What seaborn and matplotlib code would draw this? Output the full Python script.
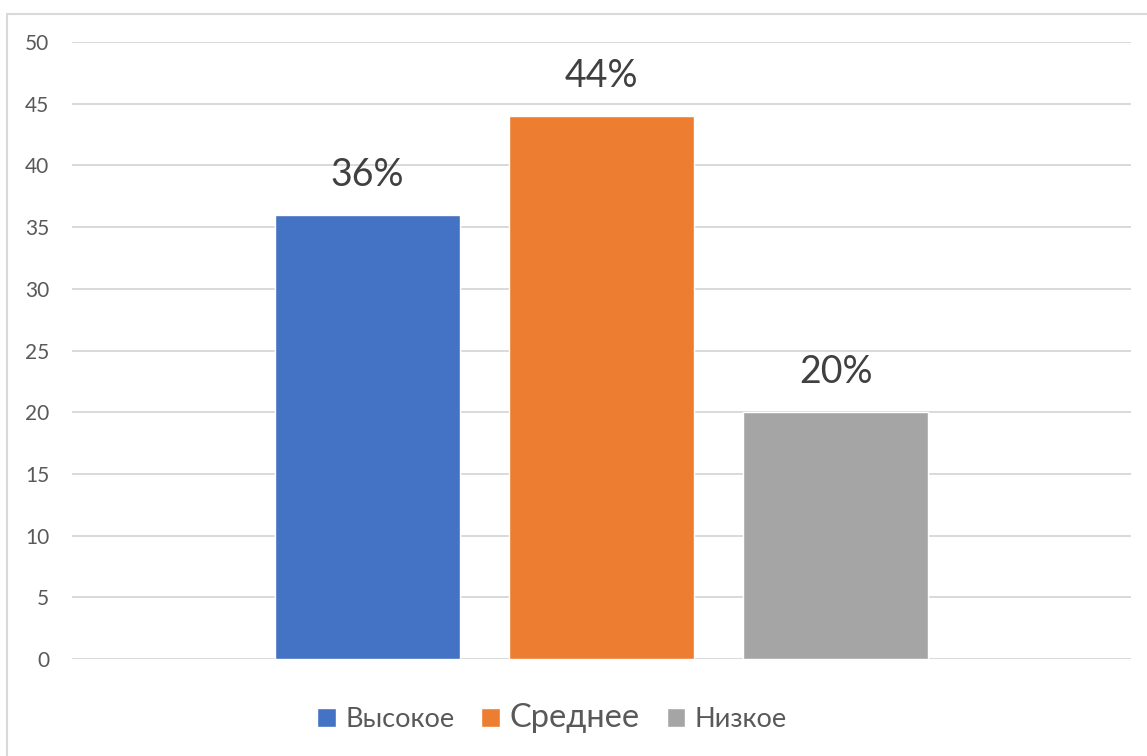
import matplotlib
matplotlib.use("Agg")
import matplotlib.pyplot as plt
import seaborn as sns
import pandas as pd
from matplotlib.patches import Rectangle

categories = ["Высокое", "Среднее", "Низкое"]
values = [36, 44, 20]
colors = ["#4472C4", "#ED7D31", "#A5A5A5"]
yticks = [0, 5, 10, 15, 20, 25, 30, 35, 40, 45, 50]

sns.set_theme(style="white")
plt.rcParams["font.family"] = ["Lato", "DejaVu Sans"]

W, H = 1147, 756
fig = plt.figure(figsize=(W / 100, H / 100), dpi=100)
ax = fig.add_axes([72 / W, 1 - 659 / H, (1131 - 72) / W, (659 - 42) / H])

df = pd.DataFrame({"group": [""] * 3, "level": categories, "value": values})
sns.barplot(data=df, x="group", y="value", hue="level", hue_order=categories,
            palette=colors, width=0.664, gap=0.21, saturation=1, ax=ax,
            legend=True)

ax.set_xlim(-0.5, 0.5)
ax.set_ylim(0, 50)
ax.set_yticks(yticks)
ax.set_yticklabels([str(t) for t in yticks])
ax.yaxis.grid(True, color="#D9D9D9", linewidth=1.4)
ax.set_axisbelow(True)
for s in ax.spines.values():
    s.set_visible(False)
ax.set_xlabel("")
ax.set_ylabel("")
ax.set_xticks([])
ax.tick_params(axis="y", length=0, pad=16.5, labelsize=15, labelcolor="#595959")
for lbl in ax.get_yticklabels():
    lbl.set_horizontalalignment("right")

for cont, v in zip(ax.containers, values):
    ax.bar_label(cont, labels=[f"{v}%"], padding=16, fontsize=27, color="#404040")

handles, labels = ax.get_legend_handles_labels()
ax.get_legend().remove()
leg = fig.legend(handles, labels, loc="center", bbox_to_anchor=(552 / W, 1 - 718 / H),
                 ncol=3, frameon=False, fontsize=19.5, handlelength=0.68,
                 handleheight=0.68, handletextpad=0.35, columnspacing=1.0)
for t in leg.get_texts():
    t.set_color("#595959")
leg.get_texts()[1].set_fontsize(23.5)

fig.patches.append(Rectangle((7.5 / W, -0.5), 2, 1.5 - 13.5 / H, transform=fig.transFigure,
                             fill=False, edgecolor="#D9D9D9", linewidth=1.5))

fig.savefig("out.png", dpi=100)
